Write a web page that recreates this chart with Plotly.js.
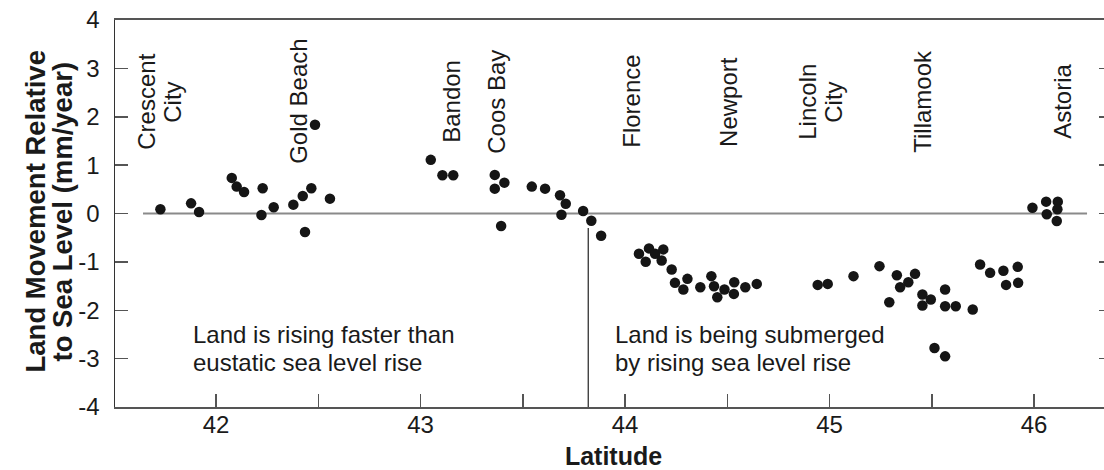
<!DOCTYPE html>
<html>
<head>
<meta charset="utf-8">
<script src="https://cdn.plot.ly/plotly-3.0.1.min.js"></script>
<style>
  html, body { margin: 0; padding: 0; background: #ffffff; overflow: hidden; }
  #chart { width: 1120px; height: 470px; }
</style>
</head>
<body>
<div id="chart"></div>
<script>
// Latitude of each tide-gauge / benchmark point
const latitude = [
  41.728, 41.878, 41.917,
  42.077, 42.101, 42.137, 42.228, 42.222, 42.282, 42.378, 42.424, 42.466, 42.484, 42.435, 42.557,
  43.050, 43.107, 43.160,
  43.363, 43.410, 43.363, 43.394, 43.544, 43.609, 43.682, 43.710, 43.689, 43.795, 43.835, 43.883,
  44.068, 44.117, 44.147, 44.187, 44.101, 44.179, 44.228, 44.244, 44.305, 44.285,
  44.368, 44.422, 44.435, 44.486, 44.451, 44.534, 44.532, 44.588, 44.644,
  44.942, 44.991, 45.117,
  45.244, 45.329, 45.418, 45.385, 45.345, 45.292, 45.454, 45.495, 45.454, 45.565,
  45.565, 45.617, 45.700, 45.736, 45.785, 45.850, 45.920, 45.863, 45.922, 45.513, 45.565,
  45.992, 46.059, 46.116, 46.114, 46.062, 46.111
];
// Land movement relative to sea level (mm/year)
const movement = [
  0.087, 0.210, 0.030,
  0.736, 0.556, 0.446, 0.522, -0.030, 0.128, 0.183, 0.363, 0.522, 1.834, -0.383, 0.307,
  1.109, 0.790, 0.790,
  0.798, 0.638, 0.514, -0.259, 0.556, 0.514, 0.377, 0.203, -0.025, 0.052, -0.149, -0.460,
  -0.833, -0.721, -0.833, -0.742, -0.999, -0.970, -1.156, -1.434, -1.351, -1.571,
  -1.523, -1.295, -1.503, -1.571, -1.731, -1.420, -1.662, -1.523, -1.455,
  -1.476, -1.455, -1.295,
  -1.088, -1.275, -1.248, -1.420, -1.523, -1.834, -1.675, -1.779, -1.903, -1.571,
  -1.917, -1.917, -1.986, -1.053, -1.227, -1.185, -1.103, -1.476, -1.434, -2.781, -2.953,
  0.120, 0.245, 0.245, 0.087, -0.017, -0.155
];
// City labels (lines) and their latitudes
const cityNames = [
  ["Crescent", "City"], ["Gold Beach"], ["Bandon"], ["Coos Bay"], ["Florence"],
  ["Newport"], ["Lincoln", "City"], ["Tillamook"], ["Astoria"]
];
const cityLat = [41.726, 42.406, 43.154, 43.374, 44.034, 44.509, 44.958, 45.457, 46.142];
// Axis ticks
const xTickVals = [42, 43, 44, 45, 46];
const xTickText = ["42", "43", "44", "45", "46"];
const yTickVals = [4, 3, 2, 1, 0, -1, -2, -3, -4];
const yTickText = ["4", "3", "2", "1", "0", "-1", "-2", "-3", "-4"];
// Region notes
const noteLeft = ["Land is rising faster than", "eustatic sea level rise"];
const noteRight = ["Land is being submerged", "by rising sea level rise"];
const hingeLat = 43.82;

const FONT = "Liberation Sans, Arial, Helvetica, sans-serif";
const TXT = "#1a1a1a";
const cityY = 2.31;

const annotations = [];
cityNames.forEach((lines, i) => {
  const n = lines.length;
  lines.forEach((ln, j) => {
    annotations.push({
      x: cityLat[i], y: cityY, xref: "x", yref: "y",
      text: ln, showarrow: false, textangle: -90,
      xanchor: "center", yanchor: "middle",
      xshift: (j - (n - 1) / 2) * 26,
      font: { family: FONT, size: 24, color: TXT }
    });
  });
});
const noteYs = [-2.51, -3.07];
noteLeft.forEach((t, j) => annotations.push({
  x: 41.876, y: noteYs[j], xref: "x", yref: "y", text: t, showarrow: false,
  xanchor: "left", yanchor: "middle", font: { family: FONT, size: 24, color: TXT }
}));
noteRight.forEach((t, j) => annotations.push({
  x: 43.94, y: noteYs[j], xref: "x", yref: "y", text: t, showarrow: false,
  xanchor: "left", yanchor: "middle", font: { family: FONT, size: 24, color: TXT }
}));
// Y axis title, two tightly spaced lines
const yTitle = ["Land Movement Relative", "to Sea Level (mm/year)"];
const yTitleX = [-80, -53];
yTitle.forEach((t, j) => annotations.push({
  x: 0, y: 0.5, xref: "paper", yref: "paper", text: "<b>" + t + "</b>", showarrow: false,
  textangle: -90, xanchor: "center", yanchor: "middle", xshift: yTitleX[j], yshift: 2,
  font: { family: FONT, size: 27.5, color: TXT }
}));

const trace = {
  type: "scatter", mode: "markers",
  x: latitude, y: movement,
  marker: { color: "#151515", size: 10.5, symbol: "circle", line: { width: 0 } },
  hoverinfo: "x+y", showlegend: false
};

const layout = {
  width: 1120, height: 470,
  margin: { l: 115, r: 8, t: 20, b: 63 },
  paper_bgcolor: "#ffffff", plot_bgcolor: "#ffffff",
  font: { family: FONT, size: 24, color: TXT },
  showlegend: false,
  xaxis: {
    range: [41.506, 46.381], showgrid: false, zeroline: false,
    tickmode: "array", tickvals: xTickVals, ticktext: xTickText,
    ticks: "inside", ticklen: 13, tickwidth: 1.5, tickcolor: "#555",
    minor: { dtick: 0.5, tick0: 0, ticks: "inside", ticklen: 13, tickwidth: 1.5, tickcolor: "#555", showgrid: false },
    showline: true, linecolor: "#555", linewidth: 1.8, mirror: true,
    tickfont: { family: FONT, size: 24, color: TXT },
    ticklabelstandoff: -5,
    title: { text: "<b>Latitude</b>", font: { family: FONT, size: 25, color: TXT }, standoff: 17 }
  },
  yaxis: {
    range: [-4, 4], showgrid: false, zeroline: false,
    tickmode: "array", tickvals: yTickVals, ticktext: yTickText,
    ticks: "inside", ticklen: 13, tickwidth: 1.5, tickcolor: "#555",
    showline: true, linecolor: "#333", linewidth: 1.5, mirror: "ticks",
    tickfont: { family: FONT, size: 24, color: TXT },
    ticklabelstandoff: 9
  },
  shapes: [
    { type: "line", xref: "x", yref: "y", x0: 41.643, x1: 46.259, y0: 0, y1: 0,
      line: { color: "#8a8a8a", width: 2 }, layer: "below" },
    { type: "line", xref: "x", yref: "y", x0: hingeLat, x1: hingeLat, y0: -0.3, y1: -4,
      line: { color: "#222", width: 1.2 }, layer: "below" }
  ],
  annotations: annotations
};

Plotly.newPlot("chart", [trace], layout, { displayModeBar: false, staticPlot: true });
</script>
</body>
</html>
